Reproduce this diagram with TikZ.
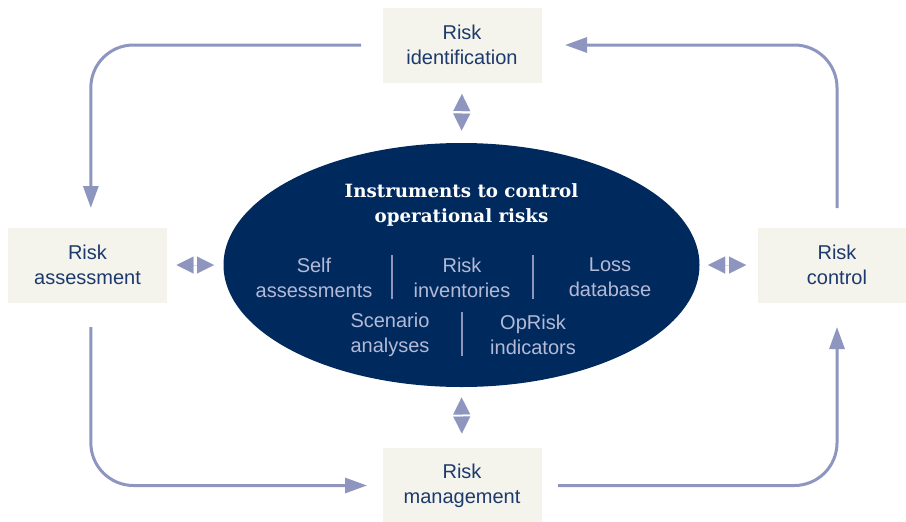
\documentclass[tikz,border=0pt]{standalone}
\usepackage{fontspec}
\setmainfont{Liberation Sans}
\newfontfamily\slabfont{DejaVu Serif}
\usetikzlibrary{arrows.meta,shapes.geometric}

\definecolor{boxfill}{HTML}{F4F3EC}
\definecolor{boxtext}{HTML}{1D3A6D}
\definecolor{navy}{HTML}{002A5E}
\definecolor{paletext}{HTML}{B4BAD6}
\definecolor{flowline}{HTML}{8E96C0}

\tikzset{every picture/.style={line width=0.75pt}}
\tikzset{
  stage/.style={fill=boxfill, minimum width=119.25pt, minimum height=56.25pt, inner sep=0pt,
    align=center, text=boxtext, font=\fontsize{15}{18.75}\selectfont},
  tool/.style={align=center, text=paletext, inner sep=0pt, font=\fontsize{15}{18.75}\selectfont},
  flow/.style={draw=flowline, line width=2.25pt, rounded corners=32pt,
    -{Triangle[length=16.5pt,width=11.25pt]}},
  pair/.style={draw=flowline, line width=0.01pt,
    {Triangle[length=12.75pt,width=12.75pt]}-{Triangle[length=12.75pt,width=12.75pt]}},
  divider/.style={draw=flowline, line width=1.5pt}
}

\begin{document}
\begin{tikzpicture}[x=0.75pt,y=0.75pt,yscale=-1,xscale=1]
\useasboundingbox (0,0) rectangle (906,521);

%Shape: Ellipse [id:instr]
\node[ellipse, fill=navy, minimum width=357pt, minimum height=183pt, inner sep=0pt] (instr) at (461.5,265) {};

%Stages of the cycle
\node[stage] (ident) at (462,45) {Risk\\identification};
\node[stage] (assess) at (87.5,265) {Risk\\assessment};
\node[stage] (control) at (837,265) {Risk\\control};
\node[stage] (mgmt) at (462,485.5) {Risk\\management};

% Text Node
\node[text=white, align=center, inner sep=0pt, font=\slabfont\bfseries\fontsize{13.7}{18.75}\selectfont] (title) at (461.5,204.5) {Instruments to control\\operational risks};

% Text Nodes
\node[tool] (self) at (314,277.5) {Self\\assessments};
\node[tool] (invent) at (462,277.5) {Risk\\inventories};
\node[tool] (loss) at (610,277.5) {Loss\\database};
\node[tool] (scen) at (390,335) {Scenario\\analyses};
\node[tool] (oprisk) at (533,335) {OpRisk\\indicators};

%Straight Lines [id:dividers]
\draw[divider] (392,255) -- (392,299);
\draw[divider] (533,255) -- (533,299);
\draw[divider] (462,312) -- (462,356);

%Curve Lines [id:cycle]
\draw[flow, shorten <=15.75pt, shorten >=14.25pt] (ident.west) -| ([xshift=2.5pt]assess.north);
\draw[flow, shorten <=18pt, shorten >=11.25pt] ([xshift=2.5pt]assess.south) |- (mgmt.west);
\draw[flow, shorten <=12pt, shorten >=18pt] (mgmt.east) -| (control.south);
\draw[flow, shorten <=14.25pt, shorten >=17.25pt] (control.north) |- (ident.east);

%Double tips [id:links]
\draw[pair, shorten <=8.25pt, shorten >=9pt] (ident.south) -- (instr.north);
\draw[pair, shorten <=6.75pt, shorten >=6.75pt] (assess.east) -- (instr.west);
\draw[pair, shorten <=6pt, shorten >=8.25pt] (instr.east) -- (control.west);
\draw[pair, shorten <=7.5pt, shorten >=10.5pt] (instr.south) -- (mgmt.north);

\end{tikzpicture}
\end{document}
